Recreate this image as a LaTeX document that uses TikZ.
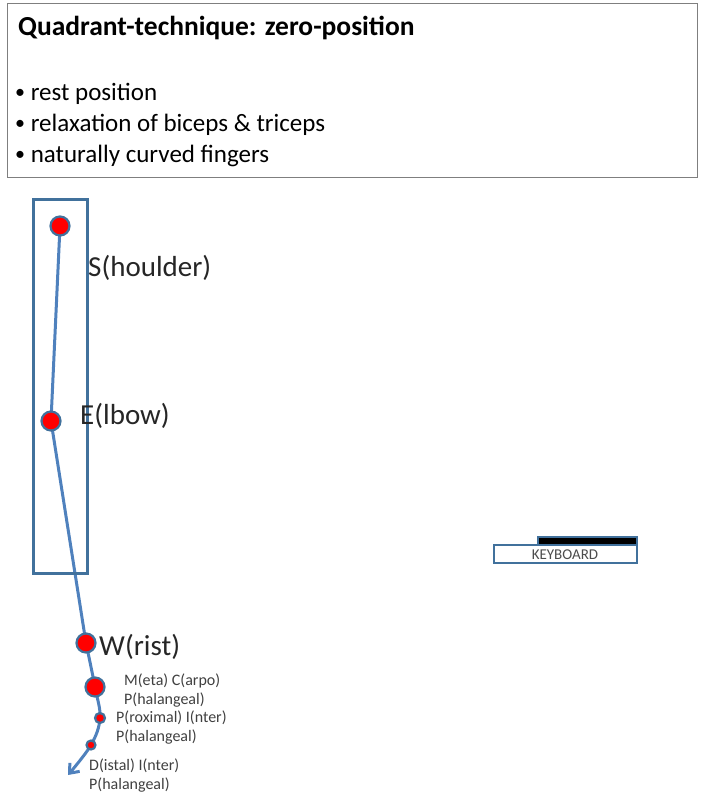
\documentclass[tikz,border=0pt]{standalone}
\usepackage{fontspec}
\setmainfont{Carlito}
\usetikzlibrary{arrows.meta,backgrounds}
\definecolor{boxblue}{HTML}{41719C}
\definecolor{armblue}{HTML}{4F81BD}
\definecolor{graybox}{HTML}{7F7F7F}
\newcommand{\mybul}{{\fontsize{20}{20}\selectfont\raisebox{1.5pt}{\textbullet}}\ }
\begin{document}
\begin{tikzpicture}[x=1pt,y=-1pt,
  joint/.style={circle,fill=red,draw=boxblue,line width=2.2pt,inner sep=0pt,minimum size=#1},
  armline/.style={draw=armblue,line width=3pt},
  biglabel/.style={anchor=west,font=\fontsize{29}{33}\selectfont,text=black!85,inner sep=0pt},
  smalllabel/.style={anchor=north west,font=\fontsize{16}{19}\selectfont,text=black!75,inner sep=0pt,align=left},
  outline/.style={draw=boxblue,line width=2.5pt}]
\useasboundingbox (0,0) rectangle (701,800);
% title box
\node[draw=graybox,line width=1pt,minimum width=690pt,minimum height=174pt,anchor=north west,inner sep=0pt] (titlebox) at (7,3) {};
\node[anchor=west,inner sep=0pt,font=\fontsize{27.5}{31}\selectfont\bfseries] (title) at (18,28) {Quadrant-technique: zero-position};
\node[anchor=north west,inner sep=0pt,align=left,font=\fontsize{25}{31}\selectfont] (bullets) at (15,83) {\mybul rest position\\ \mybul relaxation of biceps \& triceps\\ \mybul naturally curved fingers};
% arm box
\node[outline,minimum width=54pt,minimum height=374pt,anchor=north west,inner sep=0pt] (armbox) at (32,198) {};
% joints
\node[joint=19pt] (s) at (60,226) {};
\node[joint=19pt] (e) at (51,421) {};
\node[joint=19pt] (w) at (86,643) {};
\node[joint=19pt] (mcp) at (95,687) {};
\node[joint=10pt] (pip) at (100,718) {};
\node[joint=9pt] (dip) at (91,745) {};
\coordinate (tip) at (68,775);
\begin{pgfonlayer}{background}
\draw[armline] (s.center) -- (e.center) -- (w.center);
\draw[armline,-{Straight Barb[length=8pt,width=13pt]}] plot[smooth,tension=0.6] coordinates {(w.center) (mcp.center) (pip.center) (dip.center) (tip)};
\end{pgfonlayer}
% labels
\node[biglabel] (sl) at (88,268) {S(houlder)};
\node[biglabel] (el) at (80,416) {E(lbow)};
\node[biglabel] (wl) at (99,647) {W(rist)};
\node[smalllabel] (mcpl) at (124,674) {M(eta) C(arpo)\\P(halangeal)};
\node[smalllabel] (pipl) at (116,711) {P(roximal) I(nter)\\P(halangeal)};
\node[smalllabel] (dipl) at (89,759) {D(istal) I(nter)\\P(halangeal)};
% keyboard
\draw[outline,line width=2pt,fill=white] (494,545) rectangle (637,563);
\draw[outline,line width=2pt,fill=black] (538,537) rectangle (637,545);
\node[font=\fontsize{15}{17}\selectfont,text=black!70,inner sep=0pt] (kb) at (565,555) {KEYBOARD};
\end{tikzpicture}
\end{document}
